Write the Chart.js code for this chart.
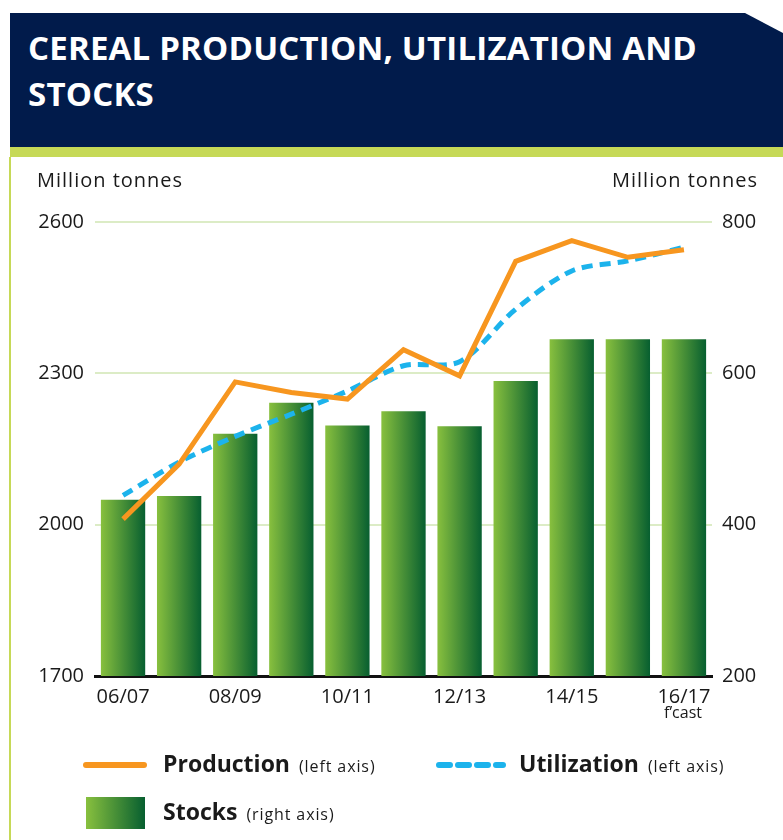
<!DOCTYPE html>
<html>
<head>
<meta charset="utf-8">
<script src="https://cdn.jsdelivr.net/npm/chart.js"></script>
<style>
  html, body { margin: 0; padding: 0; background: #fff; }
  body { width: 783px; height: 840px; position: relative; overflow: hidden; font-family: 'Open Sans', sans-serif; color: #1a1a1a; }
  #hdr {
    position: absolute; left: 10px; top: 13px; width: 773px; height: 134px;
    background: #011b4b;
    clip-path: polygon(0 0, 735px 0, 773px 20px, 773px 100%, 0 100%);
  }
  #hdr h1 {
    margin: 0; position: absolute; left: 18px; top: 12px;
    font-family: 'Open Sans', sans-serif;
    font-weight: bold; font-size: 33px; line-height: 46px; color: #fff;
    letter-spacing: 0.2px;
  }
  #lime { position: absolute; left: 10px; top: 147px; width: 773px; height: 10px; background: #c6d957; }
  #edge { position: absolute; left: 9px; top: 157px; width: 2px; height: 683px; background: #c6d957; }
  .unit { position: absolute; top: 166px; font-size: 20px; letter-spacing: 1px; }
  #fcast { position: absolute; left: 664px; top: 701px; font-size: 16px; }
  #chartwrap { position: absolute; left: 0; top: 0; width: 783px; height: 840px; }
  .leg { position: absolute; font-size: 23px; font-weight: bold; white-space: nowrap; }
  .leg small { font-size: 16px; font-weight: normal; letter-spacing: 0.9px; margin-left: 3px; }
  .swatch { position: absolute; }
</style>
</head>
<body>
<div id="hdr"><h1>CEREAL PRODUCTION, UTILIZATION AND<br>STOCKS</h1></div>
<div id="lime"></div>
<div id="edge"></div>
<div id="chartwrap"><canvas id="myChart" width="783" height="840"></canvas></div>
<div class="unit" style="left:37px">Million tonnes</div>
<div class="unit" style="left:612px">Million tonnes</div>
<div id="fcast">f’cast</div>

<div class="swatch" style="left:83px; top:762px; width:64px; height:6px; background:#f7961f; border-radius:3px"></div>
<div class="leg" style="left:163px; top:747px">Production <small>(left axis)</small></div>
<svg class="swatch" style="left:435px; top:759px" width="72" height="12"><line x1="4" y1="6" x2="68" y2="6" stroke="#1cb3ec" stroke-width="6" stroke-linecap="round" stroke-dasharray="11 8"/></svg>
<div class="leg" style="left:519px; top:747px">Utilization <small>(left axis)</small></div>
<div class="swatch" style="left:86px; top:797px; width:59px; height:32px; background:linear-gradient(to right,#88c03e,#075f30)"></div>
<div class="leg" style="left:163px; top:795px">Stocks <small>(right axis)</small></div>

<script>
const labels = ['06/07', '07/08', '08/09', '09/10', '10/11', '11/12', '12/13', '13/14', '14/15', '15/16', '16/17'];
const production = [2011, 2120, 2283, 2262, 2249, 2347, 2295, 2522, 2563, 2530, 2545];
const utilization = [2058, 2124, 2175, 2219, 2265, 2315, 2323, 2427, 2503, 2523, 2550];
const stocks = [433, 438, 520, 561, 531, 550, 530, 590, 645, 645, 645];
const leftTicks = [1700, 2000, 2300, 2600];
const rightTicks = [200, 400, 600, 800];

const catPct = 0.79;

function barGradient(c) {
  const chart = c.chart;
  const x = chart.scales.x;
  if (c.dataIndex === undefined || !x || !x.width) return '#3f8f3a';
  const bw = x.width / labels.length * catPct;
  const cx = x.getPixelForValue(c.dataIndex);
  const g = chart.ctx.createLinearGradient(cx - bw / 2, 0, cx + bw / 2, 0);
  g.addColorStop(0, '#88c03e');
  g.addColorStop(1, '#075f30');
  return g;
}

const tickFont = { family: 'Open Sans', size: 20 };

const ctx = document.getElementById('myChart').getContext('2d');
new Chart(ctx, {
  data: {
    labels: labels,
    datasets: [
      {
        type: 'line',
        label: 'Production',
        data: production,
        yAxisID: 'y',
        borderColor: '#f7961f',
        borderWidth: 5,
        pointRadius: 0,
        tension: 0,
        borderJoinStyle: 'miter'
      },
      {
        type: 'line',
        label: 'Utilization',
        data: utilization,
        yAxisID: 'y',
        borderColor: '#1cb3ec',
        borderWidth: 5,
        borderDash: [11, 7],
        pointRadius: 0,
        tension: 0.3
      },
      {
        type: 'bar',
        label: 'Stocks',
        data: stocks,
        yAxisID: 'y2',
        backgroundColor: barGradient,
        barPercentage: 1,
        categoryPercentage: catPct
      }
    ]
  },
  options: {
    responsive: false,
    animation: false,
    devicePixelRatio: 1,
    layout: { padding: { left: 0, right: 0, top: 222, bottom: 0 } },
    plugins: {
      legend: { display: false },
      tooltip: { enabled: false }
    },
    scales: {
      x: {
        grid: { display: false },
        border: { display: true, color: '#111', width: 3 },
        ticks: {
          font: tickFont, color: '#1a1a1a', padding: 1,
          autoSkip: false, maxRotation: 0,
          callback: (v, i) => i % 2 === 0 ? labels[i] : ''
        },
        afterFit: s => { s.height = 164; }
      },
      y: {
        position: 'left',
        min: 1700, max: 2600,
        afterBuildTicks: s => { s.ticks = leftTicks.map(v => ({ value: v })); },
        grid: { color: '#dcecc6', lineWidth: 2, drawTicks: false },
        border: { display: false },
        ticks: { font: tickFont, color: '#1a1a1a', padding: 11, callback: v => String(v) },
        afterFit: s => { s.width = 95; }
      },
      y2: {
        position: 'right',
        min: 200, max: 800,
        afterBuildTicks: s => { s.ticks = rightTicks.map(v => ({ value: v })); },
        grid: { display: false, drawTicks: false },
        border: { display: false },
        ticks: { font: tickFont, color: '#1a1a1a', padding: 10, callback: v => String(v) },
        afterFit: s => { s.width = 71; }
      }
    }
  }
});
</script>
</body>
</html>
